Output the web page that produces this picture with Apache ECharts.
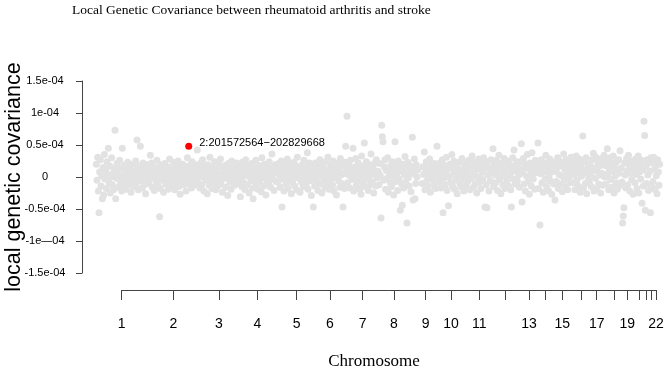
<!DOCTYPE html>
<html lang="en">

<head>
    <meta charset="UTF-8">
    <title>Local Genetic Covariance</title>
    <script src="https://cdn.jsdelivr.net/npm/echarts@6/dist/echarts.min.js"></script>
    <style>
        html, body { margin: 0; padding: 0; background: #fff; }
        #main { width: 669px; height: 371px; }
    </style>
</head>

<body>
    <div id="main"></div>
    <script>
        // chromosome spans on the cumulative position axis (axis units)
        var chrStart = [14, 66, 115, 156, 195, 231, 264, 296, 340, 356, 383, 410, 435, 455, 472, 490, 507, 523, 539, 552, 563, 570];
        var chrEnd = [66, 115, 156, 195, 231, 264, 296, 336, 356, 383, 410, 435, 455, 472, 490, 507, 523, 539, 552, 563, 570, 578];

        // axis ticks drawn under the plot and their labels
        var chrTicks = [39.7, 91.3, 137, 175.3, 214.7, 248, 280.7, 312, 343.7, 369, 397.3, 423.7, 447, 463.7, 480.3, 499.7, 514.7, 532, 545.3, 557.3, 564, 569, 574];
        var chrTickLabels = ['1', '2', '3', '4', '5', '6', '7', '8', '9', '10', '11', '', '13', '', '15', '', '17', '', '19', '', '', '', '22'];

        // local genetic covariance per locus, in units of 1e-06
        var chr1 = [20, -5, 31, -22, -56, 8, 27, -14, 2, -34, 15, -28, 35, -3, 11, -18, 24, 4, 45, -9, 17, -25, 0, 30, -12, 6, -20, 13, 73, -34, -2, 21, 9, -16, 3, 26, -7, 14, -22, 45, 1, -11, 18, 7, -19, 12, -4, 23, -13, 5, 16, -8, -24, 10, 2, 20, -15, 8, -1, 25, -10, 58, 13, -20, 4, 17, 48, -6, 9, -17, 22, 0, -12, 15, -26, 6, 19, -3];
        var chr2 = [7, -10, 18, 34, -2, 22, -16, 5, 12, -21, 0, 15, -7, 26, -13, 3, 9, -62, -18, 19, 1, -5, 14, -24, 8, 21, -11, 4, -1, 16, -19, 10, 28, -8, 2, 13, -14, 6, 23, -3, -20, 11, 0, 17, -9, 25, -15, 7, -27, 12, 3, -6, 20, -12, 9, -2, 15, -22, 5, 30, -10, 1, 18, -4, 8, -17, 24, -7, 11, 2, -13, 19, -1, 6];
        var chr3 = [42, -8, 14, 3, -17, 22, 6, -12, 27, 0, -22, 11, 17, -5, 8, -26, 19, 2, -13, 31, -3, 10, -18, 15, 5, -9, 24, -1, -20, 12, 7, -14, 20, -6, 2, 28, -11, 16, -24, 4, 9, -2, 18, -16, 13, 0, -29, 21, 6, -8, 14, -19, 25, 1, -4, 11, -13, 17, -7, 22, 3, -10];
        var chr4 = [10, -4, 19, -31, 6, -15, 23, 1, -9, 14, -20, 27, 3, -12, 8, 17, -25, 0, 12, -6, 21, -17, -34, 5, 15, -2, 26, -11, 9, -19, 2, 18, -8, 13, -23, 30, -1, 7, -14, 20, 4, -28, 11, -5, 16, -10, 24, 1, -16, 8, 36, -3, 14, -21, 6, 19, -7, 10];
        var chr5 = [12, -7, 21, 3, -16, 9, 25, -47, -3, 15, -22, 6, 18, -11, 1, 28, -18, 11, -5, 20, 4, -26, 14, -9, 8, 23, -14, 0, 17, -20, 31, 5, -2, 13, -24, 10, -8, 19, 2, -15, 26, -4, 7, -12, 16, 38, -19, 3, 22, -6, 11, -29, 14, -1];
        var chr6 = [-47, 9, -14, 22, 4, -8, 17, -21, 12, 1, 27, -11, 6, -25, 15, 19, -3, 10, -17, 24, 0, -9, 31, 7, -19, 14, -5, 20, 2, -13, 25, -22, 11, -1, 16, -28, 8, 21, -6, 13, -16, 29, 3, -10, 18, -47, 5, -18, 23, 48];
        var chr7 = [12, 95, -9, 20, 3, -17, 26, 8, -4, 15, 45, -22, 10, 1, 29, -13, 18, -6, 22, 5, -19, 13, -27, 33, 0, -10, 17, 53, -15, 7, 24, -3, 11, -21, 19, 2, -12, 36, 6, -8, 16, -25, 21, 4, -14, 27, -1, 9];
        var chr8 = [8, -12, 21, 2, -64, 81, 63, 55, -5, 16, 27, -19, 10, -2, 30, -24, 13, 4, -9, 19, -15, 24, 1, -28, 11, 55, -7, 17, 6, -21, 25, -3, 14, -52, 9, -11, -44, 20, -17, 3, 32, -8, 12, -72, 23, -1, -14, 18, 7, -23, 15, 62, -36, 5, 28, -34, -10, 19, 0, 11];
        var chr9 = [-10, 16, 4, 39, -20, 9, 24, -6, 13, -15, 1, 28, -24, 7, 18, -3, 11, -12, 21, 5, -18, 14, 48, -1];
        var chr10 = [14, -8, 22, 3, -17, 10, 27, -56, -2, 18, -12, 6, 31, -21, 12, -45, 0, 20, -9, 15, 35, -14, 4, 25, -19, 8, -5, 17, -26, 11, 2, 23, -11, 7, -16, 29, -3, 13, -22, 19];
        var chr11 = [6, -13, 20, 2, -7, 26, 12, -20, 16, -2, 33, 9, -16, 23, 4, -10, 18, -25, 13, 0, 28, -8, 15, -18, 21, 7, -4, 30, 11, -47, 17, -12, -48, 24, 3, -22, 14, -6, 27, 9];
        var chr12 = [10, 44, -15, 19, 3, -9, 26, 14, -21, 7, 34, -4, 17, -26, 11, 22, -12, 1, 29, -18, 8, 16, -7, 25, 2, -14, 20, 5, -20, -47, 13, 30, -3, 42, 18, -11, 9, 24];
        var chr13 = [-6, 18, 3, -16, 24, 11, 52, -39, 6, 29, -11, 15, -22, 20, 1, 35, -8, 13, -27, 22, 4, -14, 38, 9, -3, 17, -19, 26, 7, 12];
        var chr14 = [12, 53, -18, 20, -75, 5, 27, -9, 15, -24, 8, 22, -3, 34, -14, 11, 19, -21, 2, 28, -6, 16, -27, 24, 9, -11];
        var chr15 = [9, -36, 21, -7, 14, 30, -18, 4, 25, -11, 17, 2, -23, 19, 36, -4, 12, -15, 27, 7, -20, 22, 0, 15, -9, 31, 10];
        var chr16 = [16, -9, 25, 3, -20, 12, 33, -5, 21, -14, 8, 28, -24, 17, 1, 11, 64, -17, 24, 6, -10, 30, -26, 13, 19, -3];
        var chr17 = [-8, 20, 5, -15, 27, 11, 37, -22, 14, -2, 31, -18, 9, 23, -11, 17, 3, -25, 28, 6, -13, 21, 34, 0];
        var chr18 = [18, -11, 26, 44, 5, -20, 13, 30, -4, 21, -16, 9, 33, -25, 15, 2, -9, 24, -19, 11, 27, 6, 41, -13];
        var chr19 = [14, -8, -72, -61, -48, 22, 3, -17, 29, 9, -12, 34, 18, -22, 6, 25, -4, 12, -27, 20];
        var chr20 = [21, -9, 28, 4, -18, 14, 33, -25, 8, 19, -3, 26, -41, 11, -14, 87, 65];
        var chr21 = [-52, 17, -10, 27, 3, -21, 22, 9, -56, 30, -15];
        var chr22 = [24, -7, 31, 12, -19, 18, 2, -26, 27, 8, -13, 20];
        var chrValues = [chr1, chr2, chr3, chr4, chr5, chr6, chr7, chr8, chr9, chr10, chr11,
            chr12, chr13, chr14, chr15, chr16, chr17, chr18, chr19, chr20, chr21, chr22];

        // highlighted locus
        var leadChr = 2;
        var leadFrom = 201572564;
        var leadTo = 202829668;
        var leadChrLength = 243199373;
        var leadValue = 48;

        var yLabels = {
            '150': '1.5e-04', '100': '1e-04', '50': '0.5e-04', '0': '0',
            '-50': '-0.5e-04', '-100': '-1e\u201404', '-150': '-1.5e-04'
        };

        var points = [];
        chrValues.forEach(function(vals, c) {
            var step = (chrEnd[c] - chrStart[c]) / vals.length;
            vals.forEach(function(v, i) {
                points.push([chrStart[c] + (i + 0.5) * step, v]);
            });
        });

        var k = leadChr - 1;
        var leadX = chrStart[k] + ((leadFrom + leadTo) / 2 / leadChrLength) * (chrEnd[k] - chrStart[k]);

        var plotLeft = 82, plotWidth = 580;
        var axisColor = '#444';

        var chart = echarts.init(document.getElementById('main'));
        var option = {
            animation: false,
            graphic: [{
                type: 'text',
                left: 72,
                top: 3,
                style: {
                    text: 'Local Genetic Covariance between rheumatoid arthritis and stroke',
                    font: '13.5px "Liberation Serif"',
                    fill: '#000'
                }
            }, {
                type: 'text',
                x: 374,
                y: 362,
                style: {
                    text: 'Chromosome',
                    font: '17px "Liberation Serif"',
                    fill: '#000',
                    textAlign: 'center',
                    textVerticalAlign: 'middle'
                }
            }],
            grid: [{
                left: plotLeft,
                width: plotWidth,
                top: 81,
                height: 192,
                outerBoundsMode: 'none'
            }, {
                left: plotLeft + chrTicks[0],
                width: chrTicks[chrTicks.length - 1] - chrTicks[0],
                top: 280,
                height: 10,
                outerBoundsMode: 'none'
            }],
            xAxis: [{
                gridIndex: 0,
                type: 'value',
                min: 0,
                max: plotWidth,
                show: false
            }, {
                gridIndex: 1,
                type: 'value',
                min: chrTicks[0],
                max: chrTicks[chrTicks.length - 1],
                axisLine: { show: true, lineStyle: { color: axisColor, width: 1 } },
                axisTick: { show: true, length: 10, customValues: chrTicks, lineStyle: { color: axisColor } },
                axisLabel: {
                    customValues: chrTicks,
                    margin: 27,
                    fontSize: 14,
                    fontFamily: 'Liberation Sans',
                    color: '#000',
                    formatter: function(v) {
                        var i = chrTicks.indexOf(v);
                        return i >= 0 ? chrTickLabels[i] : '';
                    }
                },
                splitLine: { show: false }
            }],
            yAxis: [{
                gridIndex: 0,
                type: 'value',
                min: -150,
                max: 150,
                interval: 50,
                name: 'local genetic covariance',
                nameLocation: 'middle',
                nameGap: 57,
                nameMoveOverlap: false,
                nameTextStyle: { fontSize: 21.5, fontFamily: 'Liberation Sans', color: '#000' },
                axisLine: { show: true, lineStyle: { color: axisColor, width: 1 } },
                axisTick: { show: true, length: 6, lineStyle: { color: axisColor } },
                axisLabel: {
                    margin: 37,
                    align: 'center',
                    fontSize: 11,
                    fontFamily: 'Liberation Sans',
                    color: '#000',
                    formatter: function(v) { return yLabels[String(v)]; }
                },
                splitLine: { show: false }
            }, {
                gridIndex: 1,
                type: 'value',
                show: false
            }],
            series: [{
                type: 'scatter',
                xAxisIndex: 0,
                yAxisIndex: 0,
                symbolSize: 7,
                silent: true,
                itemStyle: { color: '#e2e2e2', opacity: 1 },
                data: points
            }, {
                type: 'scatter',
                xAxisIndex: 0,
                yAxisIndex: 0,
                symbolSize: 7,
                silent: true,
                z: 5,
                itemStyle: { color: '#ff0000', opacity: 1 },
                label: {
                    show: true,
                    position: 'right',
                    distance: 7,
                    offset: [0, -3],
                    fontSize: 11,
                    fontFamily: 'Liberation Sans',
                    color: '#000',
                    formatter: leadChr + ':' + leadFrom + '\u2212' + leadTo
                },
                data: [[leadX, leadValue]]
            }]
        };
        chart.setOption(option);
    </script>
</body>

</html>
